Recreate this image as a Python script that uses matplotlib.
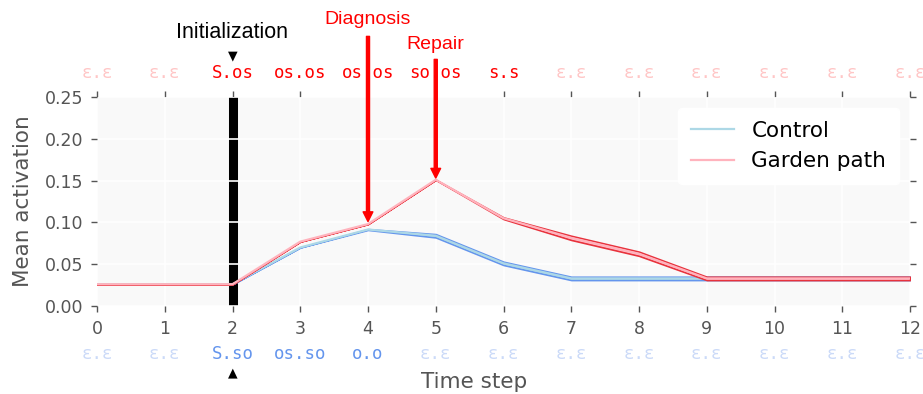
import matplotlib
matplotlib.use("Agg")
import matplotlib.pyplot as plt
from matplotlib.transforms import blended_transform_factory

# data
steps = list(range(13))

control_mean = [0.026, 0.026, 0.026, 0.070, 0.0915, 0.084, 0.051, 0.033, 0.033, 0.033, 0.033, 0.033, 0.033]
control_upper = [0.026, 0.026, 0.026, 0.070, 0.092, 0.086, 0.053, 0.035, 0.035, 0.035, 0.035, 0.035, 0.035]
control_lower = [0.026, 0.026, 0.026, 0.070, 0.091, 0.082, 0.049, 0.031, 0.031, 0.031, 0.031, 0.031, 0.031]

garden_mean = [0.026, 0.026, 0.026, 0.077, 0.098, 0.151, 0.105, 0.0815, 0.0625, 0.033, 0.033, 0.033, 0.033]
garden_upper = [0.026, 0.026, 0.026, 0.077, 0.098, 0.151, 0.106, 0.084, 0.065, 0.035, 0.035, 0.035, 0.035]
garden_lower = [0.026, 0.026, 0.026, 0.077, 0.098, 0.151, 0.104, 0.079, 0.060, 0.031, 0.031, 0.031, 0.031]

top_labels = ["ε.ε", "ε.ε", "S.os", "os.os", "os.os", "so.os", "s.s",
              "ε.ε", "ε.ε", "ε.ε", "ε.ε", "ε.ε", "ε.ε"]
bottom_labels = ["ε.ε", "ε.ε", "S.so", "os.so", "o.o", "ε.ε", "ε.ε",
                 "ε.ε", "ε.ε", "ε.ε", "ε.ε", "ε.ε", "ε.ε"]

init_step = 2
diagnosis_step, diagnosis_value = 4, 0.098
repair_step, repair_value = 5, 0.151

GRAY = "#555555"

fig = plt.figure(figsize=(9.23, 3.94), dpi=100)
ax = fig.add_axes([97 / 923, (394 - 306) / 394, 813 / 923, 209 / 394])
ax.set_facecolor("#f9f9f9")
ax.set_axisbelow(True)
ax.grid(True, color="white", linewidth=1.2)
# vertical grid under the init bar, horizontal grid over it
ax.xaxis.set_zorder(0.2)
ax.yaxis.set_zorder(0.5)

ax.axvline(init_step, color="black", linewidth=6.5, zorder=0.3)

# control band + mean
ax.fill_between(steps, control_lower, control_upper, facecolor="lightblue",
                edgecolor="cornflowerblue", linewidth=1.2, zorder=2)
ax.plot(steps, control_mean, color="lightblue", linewidth=1.6, zorder=2.1, label="Control")
# garden path band + mean
ax.fill_between(steps, garden_lower, garden_upper, facecolor="pink",
                edgecolor="#e8323c", linewidth=1.2, zorder=3)
ax.plot(steps, garden_mean, color="#ffb3bd", linewidth=1.6, zorder=3.1, label="Garden path")

ax.set_xlim(0, 12)
ax.set_ylim(0, 0.25)
ax.set_xticks(steps)
ax.set_yticks([0, 0.05, 0.10, 0.15, 0.20, 0.25])
ax.set_yticklabels(["0.00", "0.05", "0.10", "0.15", "0.20", "0.25"])
for s in ax.spines.values():
    s.set_visible(False)
ax.tick_params(colors=GRAY, labelsize=12.5, length=4, width=1,
               top=True, right=True, direction="out", pad=6)

ax.set_ylabel("Mean activation", fontsize=15.5, color=GRAY, labelpad=8)
ax.set_xlabel("Time step", fontsize=15.5, color=GRAY, va="center")
ax.xaxis.set_label_coords(0.464, -0.365)

tr = blended_transform_factory(ax.transData, ax.transAxes)
for x, lab in zip(steps, top_labels):
    col = "red" if lab != "ε.ε" else "#ffc6c6"
    ax.text(x, 1.115, lab, transform=tr, ha="center", va="center",
            family="DejaVu Sans Mono", fontsize=12.5, color=col)
for x, lab in zip(steps, bottom_labels):
    col = "cornflowerblue" if lab != "ε.ε" else "#cbdaf8"
    ax.text(x, -0.228, lab, transform=tr, ha="center", va="center",
            family="DejaVu Sans Mono", fontsize=12.5, color=col)

# annotations
ax.text(init_step, 1.31, "Initialization", transform=tr, ha="center", va="center",
        family="Liberation Sans", fontsize=15.5, color="black")
ax.text(init_step, 1.195, "▼", transform=tr, ha="center", va="center",
        fontsize=9, color="black")
ax.text(init_step, -0.32, "▲", transform=tr, ha="center", va="center",
        fontsize=9, color="black")

ax.annotate("", xy=(diagnosis_step, diagnosis_value + 0.003), xycoords="data",
            xytext=(diagnosis_step, 1.29), textcoords=tr,
            arrowprops=dict(facecolor="red", edgecolor="red", width=2.2,
                            headwidth=7, headlength=7, shrink=0))
ax.text(diagnosis_step, 1.37, "Diagnosis", transform=tr, ha="center", va="center",
        family="Liberation Sans", fontsize=14, color="red")
ax.annotate("", xy=(repair_step, repair_value + 0.002), xycoords="data",
            xytext=(repair_step, 1.18), textcoords=tr,
            arrowprops=dict(facecolor="red", edgecolor="red", width=2.2,
                            headwidth=7, headlength=7, shrink=0))
ax.text(repair_step, 1.25, "Repair", transform=tr, ha="center", va="center",
        family="Liberation Sans", fontsize=14, color="red")

leg = ax.legend(loc="upper right", fontsize=15.5, frameon=True, facecolor="white",
                edgecolor="white", framealpha=1, handlelength=2, borderpad=0.6)
leg.set_zorder(5)

fig.savefig("out.png", dpi=100)
